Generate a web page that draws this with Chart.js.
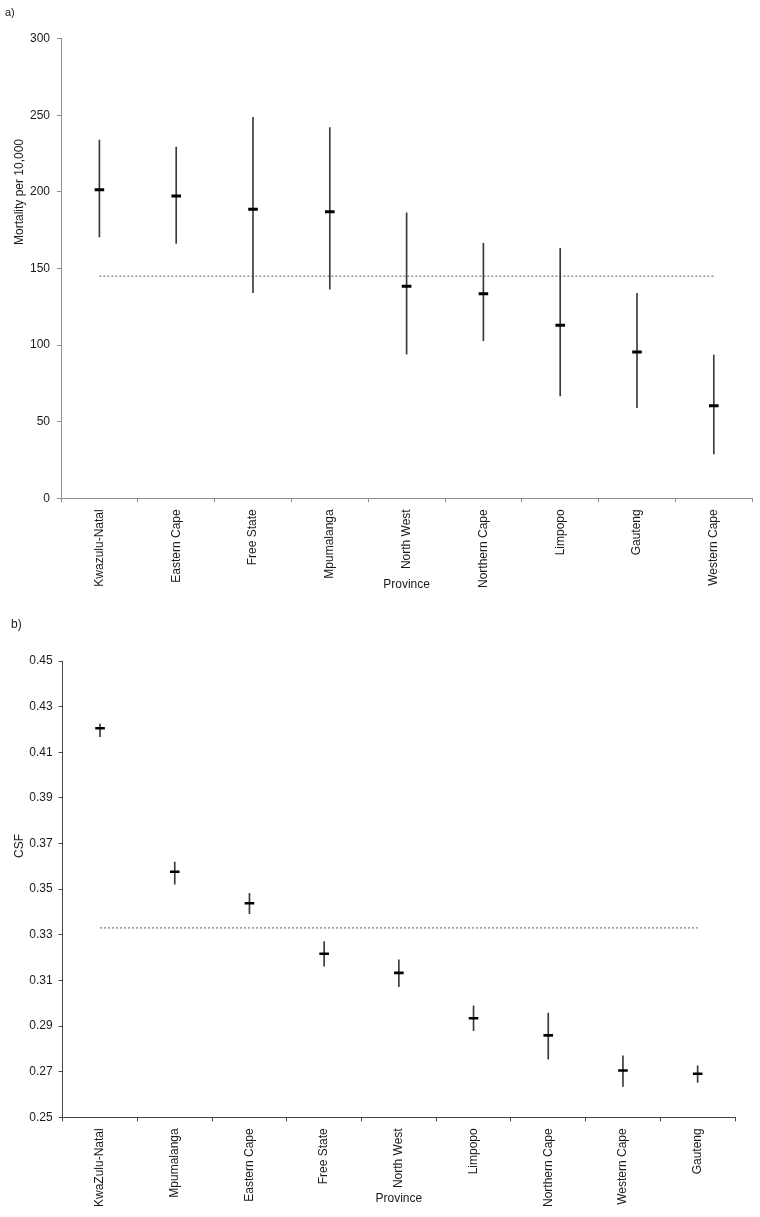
<!DOCTYPE html>
<html><head><meta charset="utf-8">
<script src="https://cdn.jsdelivr.net/npm/chart.js@4.4.0/dist/chart.umd.min.js"></script>
<style>
html,body{margin:0;padding:0;background:#fff;}
#wrapA{position:absolute;left:0;top:0;width:760px;height:610px;}
#wrapB{position:absolute;left:0;top:610px;width:760px;height:607px;}
canvas{display:block;}
</style></head><body>
<div id="wrapA"><canvas id="cA" width="760" height="610" style="width:760px;height:610px"></canvas></div>
<div id="wrapB"><canvas id="cB" width="760" height="607" style="width:760px;height:607px"></canvas></div>
<script>
// ---- Panel a) data ----
const provincesA = ['Kwazulu-Natal','Eastern Cape','Free State','Mpumalanga','North West','Northern Cape','Limpopo','Gauteng','Western Cape'];
const meanA = [201.4, 197.3, 188.6, 187.0, 138.4, 133.5, 112.9, 95.5, 60.4];
const lowA  = [170.6, 166.4, 134.2, 136.5, 94.0, 102.9, 66.8, 59.1, 28.9];
const highA = [233.8, 229.3, 248.7, 242.0, 186.4, 166.4, 163.2, 133.8, 93.5];
const refA = 145;
const yTicksA = [0, 50, 100, 150, 200, 250, 300];

// ---- Panel b) data ----
const provincesB = ['KwaZulu-Natal','Mpumalanga','Eastern Cape','Free State','North West','Limpopo','Northern Cape','Western Cape','Gauteng'];
const meanB = [0.4205, 0.3576, 0.3438, 0.3217, 0.3133, 0.2934, 0.2859, 0.2705, 0.2691];
const lowB  = [0.4168, 0.3522, 0.3392, 0.3162, 0.3073, 0.2880, 0.2755, 0.2635, 0.2653];
const highB = [0.4223, 0.3619, 0.3482, 0.3270, 0.3190, 0.2989, 0.2957, 0.2769, 0.2726];
const refB = 0.333;
const yTicksB = [0.25, 0.27, 0.29, 0.31, 0.33, 0.35, 0.37, 0.39, 0.41, 0.43, 0.45];

const FONT = '"Liberation Sans", Arial, sans-serif';
const TXT = '#1a1a1a';

const textPlugin = {
  id: 'freeText',
  afterDraw(chart, args, opts) {
    const ctx = chart.ctx;
    (opts.items || []).forEach(it => {
      ctx.save();
      ctx.font = (it.size || 12) + 'px ' + FONT;
      ctx.fillStyle = TXT;
      ctx.textAlign = it.align || 'center';
      ctx.textBaseline = 'middle';
      const x = typeof it.x === 'function' ? it.x(chart) : it.x;
      ctx.translate(x, it.y);
      if (it.rot) ctx.rotate(it.rot);
      ctx.fillText(it.text, 0, 0);
      ctx.restore();
    });
  }
};

function makeChart(id, cfg) {
  const axisColor = cfg.axisColor;
  return new Chart(document.getElementById(id), {
    type: 'bar',
    data: {
      labels: cfg.labels,
      datasets: [
        {
          type: 'line',
          data: cfg.mean,
          showLine: false,
          pointStyle: 'line',
          pointRadius: 4.8,
          pointBorderWidth: cfg.meanWidth,
          pointBorderColor: '#000',
          pointBackgroundColor: '#000',
          order: 0
        },
        {
          type: 'bar',
          data: cfg.low.map((l, i) => [l, cfg.high[i]]),
          backgroundColor: '#3a3a3a',
          borderWidth: 0,
          barThickness: 1,
          order: 1
        },
        {
          type: 'line',
          data: cfg.labels.map(() => cfg.ref),
          borderColor: '#555',
          borderWidth: 1,
          borderDash: [2, 2],
          pointRadius: 0,
          fill: false,
          order: 2
        }
      ]
    },
    options: {
      responsive: false,
      animation: false,
      devicePixelRatio: 1,
      layout: { padding: cfg.padding },
      plugins: {
        legend: { display: false },
        tooltip: { enabled: false },
        freeText: { items: cfg.texts }
      },
      scales: {
        x: {
          type: 'category',
          offset: true,
          grid: { display: true, drawOnChartArea: false, drawTicks: true, tickLength: 4, offset: true, color: axisColor, lineWidth: 1 },
          border: { display: true, color: axisColor, width: cfg.axisWidth },
          ticks: { minRotation: 90, maxRotation: 90, autoSkip: false, padding: 7, color: TXT, font: { size: 12, family: FONT } },
          afterFit: s => { s.height = cfg.xHeight; }
        },
        y: {
          min: cfg.yTicks[0],
          max: cfg.yTicks[cfg.yTicks.length - 1],
          grid: { display: true, drawOnChartArea: false, drawTicks: true, tickLength: 4, color: axisColor, lineWidth: 1 },
          border: { display: true, color: axisColor, width: cfg.axisWidth },
          ticks: { padding: cfg.yPad, color: TXT, font: { size: 12, family: FONT }, callback: cfg.fmt },
          afterBuildTicks: s => { s.ticks = cfg.yTicks.map(v => ({ value: v })); },
          afterFit: s => { s.width = cfg.yWidth; }
        }
      }
    },
    plugins: [textPlugin]
  });
}

makeChart('cA', {
  labels: provincesA, mean: meanA, low: lowA, high: highA, ref: refA, yTicks: yTicksA,
  fmt: v => String(v),
  axisColor: '#8f8f8f', axisWidth: 1, meanWidth: 3,
  padding: { top: 38.7, right: 7.3, bottom: 0, left: 0 },
  yWidth: 61, xHeight: 111.7, yPad: 7,
  texts: [
    { text: 'a)', x: 5, y: 12.5, align: 'left', size: 11 },
    { text: 'Mortality per 10,000', x: 20, y: 192, rot: -Math.PI / 2 },
    { text: 'Province', x: c => (c.chartArea.left + c.chartArea.right) / 2, y: 585 }
  ]
});

makeChart('cB', {
  labels: provincesB, mean: meanB, low: lowB, high: highB, ref: refB, yTicks: yTicksB,
  fmt: v => Number(v).toFixed(2),
  axisColor: '#444', axisWidth: 1, meanWidth: 2.6,
  padding: { top: 51, right: 25, bottom: 0, left: 0 },
  yWidth: 62.7, xHeight: 99.7, yPad: 6,
  texts: [
    { text: 'b)', x: 11, y: 15, align: 'left', size: 12 },
    { text: 'CSF', x: 20, y: 236, rot: -Math.PI / 2 },
    { text: 'Province', x: c => (c.chartArea.left + c.chartArea.right) / 2, y: 589 }
  ]
});
</script>
</body></html>
